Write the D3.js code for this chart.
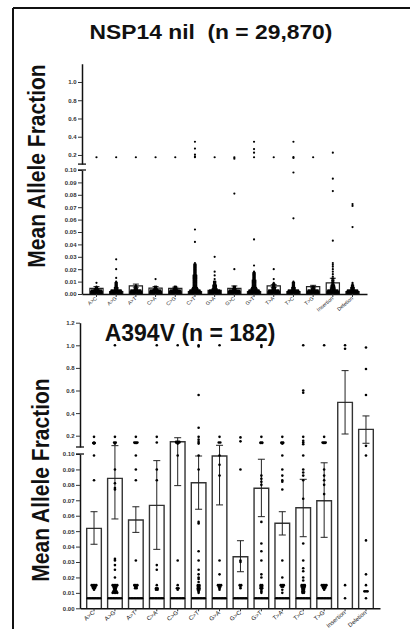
<!DOCTYPE html>
<html>
<head>
<meta charset="utf-8">
<script src="https://cdn.jsdelivr.net/npm/d3@7"></script>
<style>
  html, body { margin: 0; padding: 0; background: #fff; }
  svg { display: block; }
  text { font-family: "Liberation Sans", Arial, Helvetica, sans-serif; }
</style>
</head>
<body>
<svg id="chart" width="410" height="629"></svg>
<script>
// ---------------- DATA ----------------
const categories = ["A>C","A>G","A>T","C>A","C>G","C>T","G>A","G>C","G>T","T>A","T>C","T>G","Insertion","Deletion"];

const titleNil = "NSP14 nil  (n = 29,870)";
const titleA394V = "A394V (n = 182)";
const yTitle = "Mean Allele Fraction";

const upperTicksNil = [0.2, 0.4, 0.6, 0.8, 1.0];
const upperTicksA394V = [0.2, 0.4, 0.6, 0.8, 1.0, 1.2];
const lowerTicks = [0, 0.01, 0.02, 0.03, 0.04, 0.05, 0.06, 0.07, 0.08, 0.09, 0.10];

// NSP14 nil panel
const nilMean    = [0.0046, 0.002, 0.0065, 0.0048, 0.0045, 0.002, 0.003, 0.0046, 0.002, 0.0065, 0.002, 0.006, 0.009, 0.002];
const nilErrLow  = [0.0035, 0.0015, 0.0055, 0.0036, 0.0035, 0.0015, 0.0022, 0.0027, 0.0015, 0.0055, 0.0015, 0.005, 0.0055, 0.0015];
const nilErrHigh = [0.006, 0.0025, 0.008, 0.006, 0.0055, 0.0025, 0.0038, 0.0065, 0.0025, 0.0075, 0.0025, 0.007, 0.0127, 0.0025];
// points: [value, how many points share that value]
const nilPoints = [
  [[0.175,1],[0.009,1],[0.006,1],[0.005,2],[0.004,3],[0.003,8],[0.002,9],[0.001,9],[0.0003,9]],
  [[0.175,1],[0.028,1],[0.020,1],[0.013,1],[0.010,1],[0.009,2],[0.008,2],[0.007,2],[0.006,2],[0.005,3],[0.004,3],[0.003,8],[0.002,9],[0.001,9],[0.0003,9]],
  [[0.175,1],[0.007,1],[0.006,2],[0.005,2],[0.004,3],[0.003,8],[0.002,9],[0.001,9],[0.0003,9]],
  [[0.175,1],[0.012,1],[0.006,2],[0.005,2],[0.004,3],[0.003,8],[0.002,9],[0.001,9],[0.0003,9]],
  [[0.175,1],[0.006,2],[0.005,2],[0.004,3],[0.003,8],[0.002,9],[0.001,9],[0.0003,9]],
  [[0.345,1],[0.27,1],[0.205,1],[0.185,1],[0.175,1],[0.052,1],[0.042,1],[0.025,1],[0.024,2],[0.023,2],[0.022,2],[0.021,2],[0.020,2],[0.019,2],[0.018,2],[0.017,2],[0.016,2],[0.015,3],[0.014,3],[0.013,3],[0.012,3],[0.011,3],[0.010,3],[0.009,3],[0.008,3],[0.007,3],[0.006,3],[0.005,4],[0.004,5],[0.003,8],[0.002,9],[0.001,9],[0.0003,9]],
  [[0.175,1],[0.030,1],[0.018,1],[0.015,1],[0.012,1],[0.010,2],[0.009,2],[0.008,2],[0.007,3],[0.006,3],[0.005,3],[0.004,4],[0.003,8],[0.002,9],[0.001,9],[0.0003,9]],
  [[0.175,1],[0.16,1],[0.081,1],[0.020,1],[0.006,2],[0.005,2],[0.004,3],[0.003,8],[0.002,9],[0.001,9],[0.0003,9]],
  [[0.345,1],[0.265,1],[0.225,1],[0.175,1],[0.044,1],[0.023,1],[0.018,1],[0.017,2],[0.016,2],[0.015,2],[0.014,2],[0.013,2],[0.012,2],[0.011,3],[0.010,3],[0.009,3],[0.008,3],[0.007,3],[0.006,3],[0.005,4],[0.004,5],[0.003,8],[0.002,9],[0.001,9],[0.0003,9]],
  [[0.175,1],[0.020,1],[0.012,1],[0.009,1],[0.008,2],[0.007,2],[0.006,2],[0.005,3],[0.004,3],[0.003,8],[0.002,9],[0.001,9],[0.0003,9]],
  [[0.345,1],[0.178,1],[0.168,1],[0.098,1],[0.061,1],[0.010,1],[0.009,2],[0.008,2],[0.007,2],[0.006,2],[0.005,3],[0.004,3],[0.003,8],[0.002,9],[0.001,9],[0.0003,9]],
  [[0.175,1],[0.006,2],[0.005,2],[0.004,3],[0.003,8],[0.002,9],[0.001,9],[0.0003,9]],
  [[0.225,1],[0.093,1],[0.083,1],[0.043,1],[0.025,1],[0.0235,1],[0.022,1],[0.020,1],[0.018,1],[0.016,1],[0.014,1],[0.0125,2],[0.011,2],[0.0095,2],[0.008,2],[0.007,3],[0.006,3],[0.005,3],[0.004,4],[0.003,8],[0.002,9],[0.001,9],[0.0003,9]],
  [[0.0725,1],[0.071,1],[0.054,1],[0.009,1],[0.008,1],[0.007,2],[0.006,2],[0.005,3],[0.004,3],[0.003,8],[0.002,9],[0.001,9],[0.0003,9]]
];

// A394V panel
const a394vMean    = [0.0518, 0.0842, 0.0572, 0.0667, 0.147, 0.0814, 0.0987, 0.0334, 0.0778, 0.0551, 0.0652, 0.0697, 0.495, 0.256];
const a394vErrLow  = [0.0415, 0.0579, 0.0492, 0.0382, 0.0795, 0.0642, 0.067, 0.0237, 0.0594, 0.0475, 0.0464, 0.046, 0.215, 0.133];
const a394vErrHigh = [0.0626, 0.112, 0.0658, 0.0957, 0.182, 0.0987, 0.115, 0.0438, 0.0966, 0.0626, 0.0836, 0.0943, 0.776, 0.375];
const a394vPoints = [
  [[0.19,1],[0.14,1],[0.135,2],[0.13,1],[0.099,1],[0.083,1],[0.015,4],[0.014,3],[0.013,2],[0.012,1],[0.0065,9]],
  [[1.0,1],[0.19,1],[0.14,2],[0.13,1],[0.09,1],[0.081,1],[0.078,1],[0.077,1],[0.032,1],[0.031,1],[0.028,1],[0.025,1],[0.020,1],[0.015,4],[0.014,3],[0.013,2],[0.012,2],[0.011,3],[0.010,4],[0.0065,9]],
  [[0.19,1],[0.14,3],[0.135,2],[0.099,1],[0.09,1],[0.083,1],[0.031,1],[0.015,3],[0.014,2],[0.013,2],[0.0065,9]],
  [[1.0,1],[0.19,1],[0.14,1],[0.09,1],[0.083,1],[0.028,1],[0.025,1],[0.015,1],[0.013,2],[0.012,2],[0.0065,9]],
  [[1.0,1],[0.145,3],[0.14,3],[0.13,1],[0.099,1],[0.031,1],[0.015,1],[0.013,2],[0.012,1],[0.0065,9]],
  [[1.0,1],[0.99,1],[0.56,1],[0.27,1],[0.19,1],[0.165,1],[0.145,1],[0.13,1],[0.099,1],[0.09,1],[0.056,1],[0.055,1],[0.037,1],[0.031,1],[0.025,1],[0.022,1],[0.020,1],[0.019,1],[0.017,1],[0.015,2],[0.014,2],[0.013,2],[0.012,2],[0.011,1],[0.010,1],[0.0065,9]],
  [[1.0,1],[0.19,1],[0.14,2],[0.099,1],[0.093,1],[0.086,1],[0.031,1],[0.022,1],[0.015,3],[0.014,2],[0.013,1],[0.012,1],[0.0065,9]],
  [[0.185,1],[0.15,1],[0.09,1],[0.031,1],[0.030,1],[0.015,2],[0.014,1],[0.013,1],[0.0065,9]],
  [[1.0,1],[0.985,1],[0.19,1],[0.14,2],[0.135,2],[0.086,1],[0.084,1],[0.082,1],[0.080,1],[0.056,1],[0.042,1],[0.037,1],[0.031,1],[0.022,1],[0.020,1],[0.015,2],[0.014,2],[0.013,2],[0.012,1],[0.011,1],[0.010,1],[0.0065,9]],
  [[0.19,1],[0.14,2],[0.135,2],[0.13,1],[0.099,1],[0.09,1],[0.086,1],[0.083,1],[0.082,1],[0.077,1],[0.031,1],[0.020,1],[0.015,3],[0.014,2],[0.012,1],[0.010,1],[0.0065,9]],
  [[1.0,1],[0.6,1],[0.58,1],[0.19,1],[0.155,1],[0.14,1],[0.125,1],[0.099,1],[0.09,1],[0.088,1],[0.086,1],[0.083,1],[0.071,1],[0.042,1],[0.031,1],[0.026,1],[0.024,1],[0.020,1],[0.018,1],[0.015,3],[0.014,3],[0.013,2],[0.012,2],[0.011,2],[0.010,2],[0.0065,9]],
  [[1.0,1],[0.19,1],[0.14,3],[0.135,2],[0.09,1],[0.086,1],[0.083,1],[0.080,1],[0.074,1],[0.015,4],[0.014,3],[0.013,2],[0.012,1],[0.0065,9]],
  [[1.0,1],[0.97,1],[0.015,1],[0.0065,1]],
  [[0.98,1],[0.79,1],[0.56,1],[0.11,1],[0.099,1],[0.044,1],[0.022,1],[0.015,1],[0.011,3],[0.0065,1]]
];

// ---------------- LAYOUT ----------------
const svg = d3.select("#chart");

// frame
svg.append("line").attr("x1", 13).attr("y1", 8).attr("x2", 410).attr("y2", 8)
  .attr("stroke", "#111").attr("stroke-width", 2);
svg.append("line").attr("x1", 13).attr("y1", 8).attr("x2", 13).attr("y2", 629)
  .attr("stroke", "#111").attr("stroke-width", 2);

const panels = [
  {
    mean: nilMean, lo: nilErrLow, hi: nilErrHigh, pts: nilPoints,
    x0: 82, x1: 367, pInner: 0.33, pOuter: 0.4,
    upRange: [164.1, 63.75], loRange: [294, 170],
    upTicks: upperTicksNil,
    dotR: 1.1, dotSp: 1.35, capW: 6, barStroke: "#222", barW: 1.2,
    labelSize: 5.2, tickSize: 6,
    title: titleNil, titleX: 211, titleY: 39, titleSize: 19.5, titleStretch: 1.17,
    yTitleX: 45, yTitleY: 166
  },
  {
    mean: a394vMean, lo: a394vErrLow, hi: a394vErrHigh, pts: a394vPoints,
    x0: 80, x1: 380, pInner: 0.3, pOuter: 0.32,
    upRange: [447, 322.7], loRange: [608.3, 454],
    upTicks: upperTicksA394V,
    dotR: 1.3, dotSp: 1.55, capW: 7, barStroke: "#333", barW: 1.4,
    labelSize: 6, tickSize: 6,
    title: titleA394V, titleX: 190, titleY: 341, titleSize: 23, titleStretch: 1.0,
    yTitleX: 49, yTitleY: 480
  }
];

panels.forEach(p => {
  const g = svg.append("g");
  const x = d3.scaleBand().domain(categories).range([p.x0, p.x1])
    .paddingInner(p.pInner).paddingOuter(p.pOuter);
  const yUp = d3.scaleLinear().domain([0.1, 1.2]).range(p.upRange);
  const yLo = d3.scaleLinear().domain([0, 0.1]).range(p.loRange);
  const yv = v => (v <= 0.1 ? yLo(v) : yUp(v));
  const bw = x.bandwidth();

  // bars
  g.selectAll("path.bar").data(categories).join("path")
    .attr("class", "bar")
    .attr("d", (c, i) => {
      const xl = x(c), xr = x(c) + bw, yb = yLo(0), yt = yv(p.mean[i]);
      return `M${xl},${yb}V${yt}H${xr}V${yb}`;
    })
    .attr("fill", "#fff").attr("stroke", p.barStroke).attr("stroke-width", p.barW);

  // error bars
  const eg = g.append("g").attr("stroke", "#222").attr("stroke-width", 1);
  categories.forEach((c, i) => {
    const cx = x(c) + bw / 2;
    const y1 = yv(p.lo[i]), y2 = yv(p.hi[i]);
    eg.append("line").attr("x1", cx).attr("x2", cx).attr("y1", y1).attr("y2", y2);
    eg.append("line").attr("x1", cx - p.capW / 2).attr("x2", cx + p.capW / 2).attr("y1", y1).attr("y2", y1);
    eg.append("line").attr("x1", cx - p.capW / 2).attr("x2", cx + p.capW / 2).attr("y1", y2).attr("y2", y2);
  });

  // points
  const dots = [];
  categories.forEach((c, i) => {
    const cx = x(c) + bw / 2;
    p.pts[i].forEach(([v, n]) => {
      for (let k = 0; k < n; k++) {
        dots.push({ x: cx + (k - (n - 1) / 2) * p.dotSp, y: yv(v) });
      }
    });
  });
  g.append("g").selectAll("circle").data(dots).join("circle")
    .attr("cx", d => d.x).attr("cy", d => d.y).attr("r", p.dotR).attr("fill", "#000");

  // axes
  const axUp = d3.axisLeft(yUp).tickValues(p.upTicks).tickSize(4).tickSizeOuter(0)
    .tickPadding(1.5).tickFormat(d3.format(".1f"));
  const axLo = d3.axisLeft(yLo).tickValues(lowerTicks).tickSize(4).tickSizeOuter(0)
    .tickPadding(1.5).tickFormat(d3.format(".2f"));
  [axUp, axLo].forEach(ax => {
    const a = g.append("g").attr("transform", `translate(${p.x0},0)`).call(ax);
    a.select(".domain").attr("stroke", "#111").attr("stroke-width", 1.5);
    a.selectAll(".tick line").attr("stroke", "#333").attr("stroke-width", 1);
    a.selectAll(".tick text").attr("font-size", p.tickSize).attr("fill", "#333")
      .attr("font-weight", "bold");
  });
  // break marks
  [p.upRange[0], p.loRange[1]].forEach(yy => {
    g.append("line").attr("x1", p.x0 - 4).attr("x2", p.x0 + 4).attr("y1", yy).attr("y2", yy)
      .attr("stroke", "#111").attr("stroke-width", 1.3);
  });

  // x axis
  const axX = d3.axisBottom(x).tickSize(3).tickSizeOuter(0);
  const xa = g.append("g").attr("transform", `translate(0,${yLo(0)})`).call(axX);
  xa.select(".domain").attr("stroke", "#111").attr("stroke-width", 1.5);
  xa.selectAll(".tick line").attr("stroke", "#333");
  xa.selectAll(".tick text")
    .attr("font-size", p.labelSize).attr("fill", "#222")
    .attr("text-anchor", "end").attr("dy", null).attr("y", 0)
    .attr("transform", "translate(1,5) rotate(-40)");

  // titles
  svg.append("text")
    .attr("transform", `translate(${p.titleX},${p.titleY}) scale(${p.titleStretch},1)`)
    .attr("text-anchor", "middle").attr("font-weight", "bold").attr("font-size", p.titleSize)
    .attr("fill", "#111").style("white-space", "pre").text(p.title);

  svg.append("text")
    .attr("transform", `translate(${p.yTitleX},${p.yTitleY}) scale(1.15,1) rotate(-90)`)
    .attr("text-anchor", "middle").attr("font-weight", "bold").attr("font-size", 21)
    .attr("fill", "#111").text(yTitle);
});
</script>
</body>
</html>
